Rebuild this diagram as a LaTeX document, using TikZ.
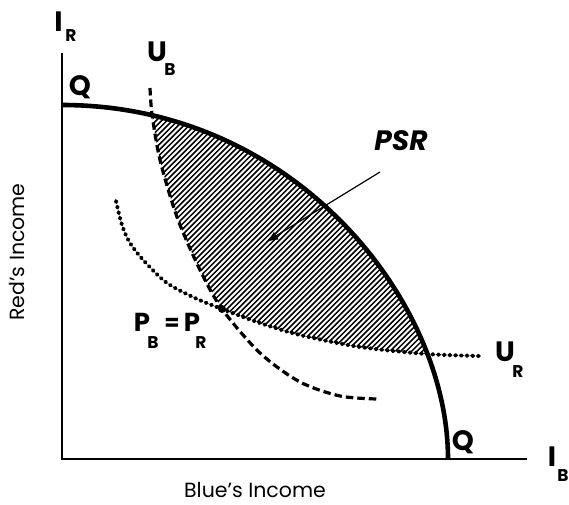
\documentclass[tikz,border=0pt]{standalone}
\usepackage{fontspec}
\setmainfont{Poppins}
\usetikzlibrary{arrows.meta}
\begin{document}
\begin{tikzpicture}[x=1pt,y=1pt,
  axis/.style={line width=1.2pt},
  frontier/.style={line width=4.6pt},
  ubcurve/.style={line width=3.2pt, dash pattern=on 7.5pt off 4pt},
  urcurve/.style={line width=3.9pt, line cap=round, dash pattern=on 1.2pt off 4.5pt},
  hatch/.style={line width=1.5pt},
  biglab/.style={font=\fontsize{28}{28}\selectfont\bfseries, inner sep=0pt},
  plab/.style={font=\fontsize{26}{26}\selectfont\bfseries, inner sep=0pt},
  sublab/.style={font=\fontsize{17}{17}\selectfont\bfseries, inner sep=0pt},
  psrlab/.style={font=\fontsize{28}{28}\selectfont\bfseries\itshape, inner sep=0pt},
  axlab/.style={font=\fontsize{20.5}{20.5}\selectfont, inner sep=0pt},
  ptr/.style={line width=1.2pt, -{Latex[length=12pt,width=9pt]}}]
\useasboundingbox (0,0) rectangle (569,504);
\coordinate (O) at (62,45);
\coordinate (ytop) at (62,451);
\coordinate (xend) at (527,45);
\coordinate (Qa) at (62,399);
\coordinate (Qb) at (448,45);
% hatched region
\begin{scope}
  \clip (Qa) .. controls (294,399) and (448,204) .. (Qb) -- (O) -- cycle;
  \clip plot[smooth] coordinates {(150,416) (152,390) (160,344) (177,287) (200,234) (222,195)}
     -- plot[smooth] coordinates {(222,195) (260,181) (300,169) (360,157) (427,150) (480,148)}
     -- (480,430) -- cycle;
  \foreach \i in {0,...,150} \draw[hatch] ({-300+\i*5.4},100) -- ++(400,400);
\end{scope}
% curves
\draw[ubcurve] plot[smooth] coordinates {(150,416) (152,390) (160,344) (177,287) (200,234) (222,195) (260,151) (300,122) (340,108) (377,105)};
\draw[urcurve] plot[smooth] coordinates {(116,303) (122,279) (130,261) (145,242) (167,221) (195,206) (222,195) (260,181) (300,169) (360,157) (427,150) (480,148)};
\draw[frontier] (Qa) .. controls (294,399) and (448,204) .. (Qb);
\draw[axis] (ytop) -- (O) -- (xend);
\node[circle, fill, inner sep=0pt, minimum size=8pt] (eq) at (222,195) {};
% arrow
\coordinate (arrTail) at (380,332);
\coordinate (arrTip) at (266,262);
\draw[ptr] (arrTail) -- (arrTip);
% labels
\node[biglab] (IR) at (58.5,482) {I};
\node[sublab] (IRs) at (71,468) {R};
\node[biglab] (UB) at (157,452) {U};
\node[sublab] (UBs) at (170,434) {B};
\node[biglab] (Q1) at (80,417) {Q};
\node[biglab] (Q2) at (463,62) {Q};
\node[biglab] (UR) at (505,152) {U};
\node[sublab] (URs) at (518,132) {R};
\node[biglab] (IB) at (552,47) {I};
\node[sublab] (IBs) at (563,28) {B};
\node[psrlab] (PSR) at (401,363) {PSR};
\node[plab] (PB) at (142,182) {P};
\node[sublab] (PBs) at (153,161) {B};
\node[plab, font=\fontsize{22}{22}\selectfont\bfseries] (eqsign) at (172,180) {=};
\node[plab] (PR) at (192,182) {P};
\node[sublab] (PRs) at (201,161) {R};
\node[axlab, rotate=90] (ylab) at (17,252) {Red’s Income};
\node[axlab] (xlab) at (255,14) {Blue’s Income};
\end{tikzpicture}
\end{document}
